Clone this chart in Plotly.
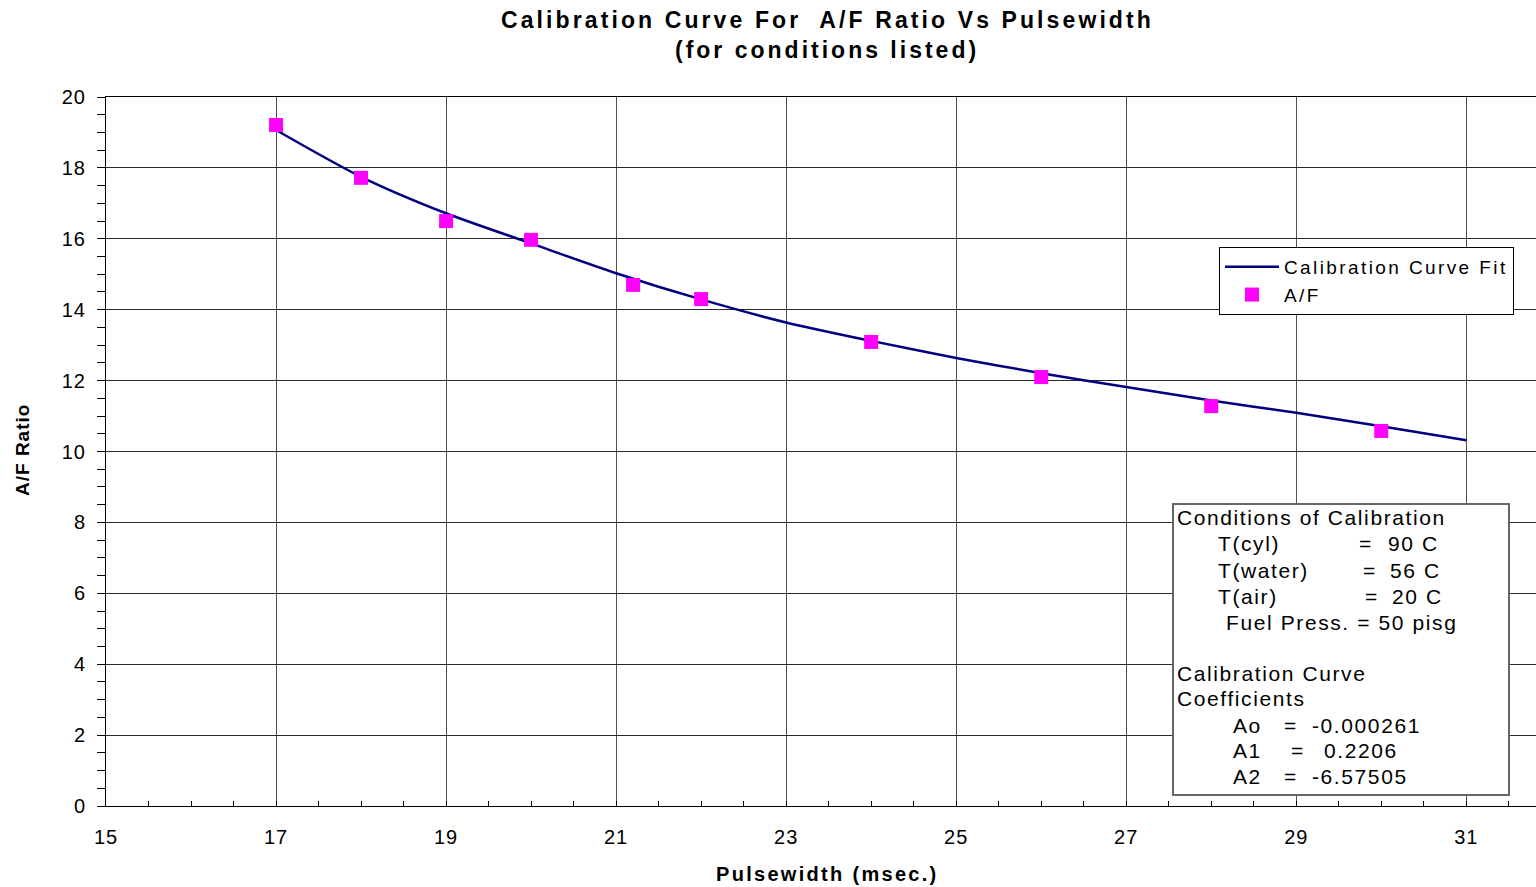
import plotly.graph_objects as go

# Measured calibration points (pulse width in msec, air/fuel ratio)
pulse_ms = [17, 18, 19, 20, 21.2, 22, 24, 26, 28, 30]
af_ratio = [19.21, 17.72, 16.50, 15.97, 14.70, 14.30, 13.09, 12.10, 11.28, 10.58]

# Calibration curve fit, sampled at each millisecond
fit_pulse_ms = [17, 18, 19, 20, 21, 22, 23, 24, 25, 26, 27, 28, 29, 30, 31]
fit_af_ratio = [19.07, 17.75, 16.72, 15.87, 15.03, 14.29, 13.64, 13.12, 12.64, 12.21,
                11.82, 11.44, 11.09, 10.71, 10.32]

x_ticks = [15, 17, 19, 21, 23, 25, 27, 29, 31]
y_ticks = [0, 2, 4, 6, 8, 10, 12, 14, 16, 18, 20]

FONT = "Liberation Sans"
W, H = 1536, 887
L, R, T, B = 106, 1536, 97, 806


def fx(px):
    return (px - L) / (R - L)


def fy(py):
    return (B - py) / (B - T)


def spaced(text, ls):
    return f'<span style="letter-spacing:{ls}px">{text}</span>'


fig = go.Figure()
fig.add_trace(go.Scatter(
    x=fit_pulse_ms, y=fit_af_ratio, mode="lines",
    name=spaced("Calibration Curve Fit", 2.4),
    line=dict(color="#000080", width=2.5, shape="spline", smoothing=0.8),
))
fig.add_trace(go.Scatter(
    x=pulse_ms, y=af_ratio, mode="markers",
    name=spaced("A/F", 2.4),
    marker=dict(symbol="square", size=14, color="#FF00FF", line=dict(width=0)),
))

grid = "#505050"
fig.update_xaxes(
    range=[15, 31.82], tickmode="array", tickvals=x_ticks,
    ticktext=[spaced(str(v), 1) for v in x_ticks],
    tickfont=dict(family=FONT, size=20, color="black"),
    showline=True, linecolor="black", linewidth=1, mirror=True,
    showgrid=True, gridcolor=grid, gridwidth=1,
    ticks="inside", ticklen=5, tickcolor="black",
    minor=dict(dtick=0.5, tick0=15, ticks="inside", ticklen=5, tickcolor="black", showgrid=False),
    ticklabelstandoff=13, zeroline=False,
)
fig.update_yaxes(
    range=[0, 20], tickmode="array", tickvals=y_ticks,
    ticktext=[spaced(str(v), 1) for v in y_ticks],
    tickfont=dict(family=FONT, size=20, color="black"),
    showline=True, linecolor="black", linewidth=1, mirror=False,
    showgrid=True, gridcolor="#2a2a2a", gridwidth=1,
    ticks="outside", ticklen=8, tickcolor="black",
    minor=dict(dtick=0.5, tick0=0, ticks="outside", ticklen=8, tickcolor="black", showgrid=False),
    ticklabelstandoff=7, zeroline=False,
)

annotations = []


def text_at(txt, px, py, size=21, ls=1.6, bold=False, anchor="left", angle=0):
    body = spaced(txt, ls)
    if bold:
        body = f"<b>{body}</b>"
    annotations.append(dict(
        text=body, x=fx(px), y=fy(py), xref="paper", yref="paper",
        xanchor=anchor, yanchor="middle", showarrow=False, textangle=angle,
        font=dict(family=FONT, size=size, color="black"),
    ))


# Titles
text_at("Calibration Curve For  A/F Ratio Vs Pulsewidth", 827, 20, size=23, ls=3.1, bold=True, anchor="center")
text_at("(for conditions listed)", 827, 50, size=23, ls=3.0, bold=True, anchor="center")
text_at("Pulsewidth (msec.)", 827, 874, size=20, ls=2.3, bold=True, anchor="center")
text_at("A/F Ratio", 22, 450, size=19, ls=1, bold=True, anchor="center", angle=-90)

# Conditions box
text_at("Conditions of Calibration", 1175, 517)
rows = [("T(cyl)", 1357, "90 C", 1386, 543),
        ("T(water)", 1361, "56 C", 1388, 570),
        ("T(air)", 1363, "20 C", 1390, 596)]
for name, eq_x, val, val_x, yy in rows:
    text_at(name, 1216, yy)
    text_at("=", eq_x, yy)
    text_at(val, val_x, yy)
text_at("Fuel Press. = 50 pisg", 1224, 622)
text_at("Calibration Curve", 1175, 673)
text_at("Coefficients", 1175, 698)
coeffs = [("Ao", 1282, "-0.000261", 1310, 725),
          ("A1", 1289, "0.2206", 1322, 750),
          ("A2", 1282, "-6.57505", 1310, 776)]
for name, eq_x, val, val_x, yy in coeffs:
    text_at(name, 1231, yy)
    text_at("=", eq_x, yy)
    text_at(val, val_x, yy)

fig.add_shape(type="rect", xref="paper", yref="paper",
              x0=fx(1173), x1=fx(1509), y0=fy(795), y1=fy(504),
              line=dict(color="#666666", width=2), fillcolor="white", layer="above")

fig.update_layout(
    width=W, height=H,
    margin=dict(l=L, r=W - R, t=T, b=H - B, pad=0),
    paper_bgcolor="white", plot_bgcolor="white",
    font=dict(family=FONT, color="black"),
    showlegend=True,
    legend=dict(x=fx(1219), y=fy(247), xanchor="left", yanchor="top",
                bgcolor="white", bordercolor="black", borderwidth=1,
                font=dict(family=FONT, size=19, color="black"),
                itemwidth=54),
    annotations=annotations,
)

fig.write_html("out.html")
